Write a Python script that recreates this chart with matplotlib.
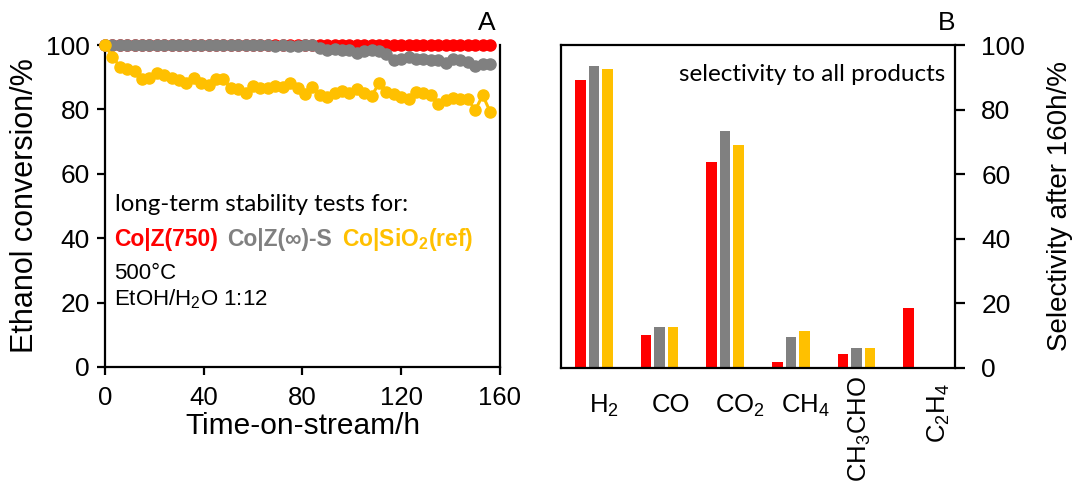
import matplotlib
matplotlib.use("Agg")
import matplotlib.pyplot as plt
import numpy as np
from matplotlib.transforms import ScaledTranslation

plt.rcParams['font.family'] = ['Liberation Sans', 'DejaVu Sans']
plt.rcParams['mathtext.fontset'] = 'custom'
plt.rcParams['mathtext.rm'] = 'Liberation Sans'
plt.rcParams['mathtext.bf'] = 'Liberation Sans:bold'
plt.rcParams['mathtext.it'] = 'Liberation Sans:italic'

RED = '#FF0000'
GRAY = '#808080'
GOLD = '#FFC000'

# ---- long-term stability: ethanol conversion (%) vs time-on-stream (h) ----
time_h = np.arange(0, 157, 3)

conv_co_z750 = [100.0] * 53

conv_co_zinf_s = [100.0, 100.0, 100.0, 100.0, 100.0, 100.0, 100.0, 100.0, 100.0, 100.0,
                  100.0, 100.0, 100.0, 100.0, 100.0, 100.0, 100.0, 100.0, 100.0, 100.0,
                  100.0, 100.0, 100.0, 99.8, 100.0, 99.7, 99.8, 99.9, 100.0, 99.2,
                  98.5, 98.8, 98.6, 98.3, 97.5, 98.2, 98.6, 98.2, 97.3, 95.3,
                  95.5, 96.2, 95.8, 95.6, 95.4, 95.2, 94.3, 95.5, 95.2, 94.7,
                  93.4, 94.2, 94.1]

conv_co_sio2 = [100.0, 96.4, 93.3, 92.4, 92.0, 89.3, 89.6, 91.4, 90.7, 89.9,
                89.1, 88.1, 89.6, 88.3, 87.6, 89.4, 89.4, 86.5, 86.2, 85.2,
                87.3, 86.5, 86.5, 87.3, 86.9, 88.1, 86.5, 84.7, 86.9, 84.4,
                83.9, 85.0, 85.8, 85.0, 86.2, 85.0, 84.2, 88.1, 85.5, 84.7,
                83.9, 83.1, 85.5, 85.0, 84.4, 81.7, 82.9, 83.4, 83.1, 83.1,
                79.8, 84.4, 79.3]

# ---- selectivity after 160 h (%) ----
products = [r'H$_\mathrm{2}$', 'CO', r'CO$_\mathrm{2}$', r'CH$_\mathrm{4}$',
            r'CH$_\mathrm{3}$CHO', r'C$_\mathrm{2}$H$_\mathrm{4}$']
sel_co_z750 = [89.2, 10.1, 63.9, 1.8, 4.4, 18.6]
sel_co_zinf_s = [93.6, 12.6, 73.4, 9.5, 6.3, 0.0]
sel_co_sio2 = [92.5, 12.8, 69.0, 11.6, 6.3, 0.3]

fig = plt.figure(figsize=(10.72, 4.94), dpi=100)

# ================= panel A =================
axA = fig.add_axes([0.0979, 0.2571, 0.3685, 0.6518])
for y, c in [(conv_co_z750, RED), (conv_co_zinf_s, GRAY), (conv_co_sio2, GOLD)]:
    axA.plot(time_h, y, '-o', color=c, lw=2.2, ms=8, mec=c, mfc=c, clip_on=False, zorder=3)

axA.set_xlim(0, 160)
axA.set_ylim(0, 100)
axA.set_xticks([0, 40, 80, 120, 160])
axA.set_yticks([0, 20, 40, 60, 80, 100])
axA.spines['top'].set_visible(False)
for s in ['left', 'right', 'bottom']:
    axA.spines[s].set_linewidth(1.6)
axA.tick_params(axis='both', direction='out', length=6, width=1.6, color='black')
axA.tick_params(axis='y', labelsize=19, pad=5)
axA.tick_params(axis='x', labelsize=18.5, pad=8)
axA.set_xlabel('Time-on-stream/h', fontsize=21.5, labelpad=1)
axA.set_ylabel('Ethanol conversion/%', fontsize=22, labelpad=4)
axA.text(0.99, 1.03, 'A', transform=axA.transAxes, ha='right', va='bottom', fontsize=19)

axA.text(0.025, 0.505, 'long-term stability tests for:', transform=axA.transAxes,
         family='Lato', fontsize=17.3, ha='left', va='center')

# sample names written in their series colours, one after another on a shared baseline
names = [('Co|Z(750)', RED), ('Co|Z(∞)-S', GRAY), (r'Co|SiO$_\mathbf{2}$(ref)', GOLD)]
fig.canvas.draw()
renderer = fig.canvas.get_renderer()
x_ax = 0.022
for txt, col in names:
    t = axA.text(x_ax, 0.375, txt, transform=axA.transAxes, color=col,
                 fontsize=16.5, fontweight='bold', ha='left', va='baseline')
    bb = t.get_window_extent(renderer).transformed(axA.transAxes.inverted())
    x_ax = bb.x1 + 10 / axA.bbox.width

axA.text(0.023, 0.29, '500°C', transform=axA.transAxes, fontsize=16, ha='left', va='center')
axA.text(0.023, 0.21, r'EtOH/H$_\mathrm{2}$O 1:12', transform=axA.transAxes,
         fontsize=16, ha='left', va='center')

# ================= panel B =================
axB = fig.add_axes([0.5233, 0.2551, 0.3675, 0.6538])
x = np.arange(len(products))
w = 0.16
step = 0.205
axB.bar(x - step, sel_co_z750, w, color=RED, zorder=2)
axB.bar(x, sel_co_zinf_s, w, color=GRAY, zorder=2)
axB.bar(x + step, sel_co_sio2, w, color=GOLD, zorder=2)
axB.set_xlim(-0.5, len(products) - 0.5)
axB.set_ylim(0, 100)
axB.yaxis.tick_right()
axB.yaxis.set_label_position('right')
axB.set_yticks([0, 20, 40, 60, 80, 100])
for s in axB.spines.values():
    s.set_linewidth(1.6)
axB.tick_params(axis='y', direction='out', length=7, width=1.6, labelsize=19, pad=12)
axB.set_ylabel('Selectivity after 160h/%', fontsize=20, labelpad=16)
axB.set_xticks(x)
axB.set_xticklabels(products, fontsize=18.5)
axB.tick_params(axis='x', length=0, pad=18)
# (dx, dy) shifts in pixels and rotation of each product label
label_shift = [(10, 0, 0), (12, 0, 0), (15, 0, 0), (15, 0, 0), (3, 17, 90), (17, 10, 90)]
for lab, (dx, dy, rot) in zip(axB.get_xticklabels(), label_shift):
    lab.set_rotation(rot)
    lab.set_transform(lab.get_transform() +
                      ScaledTranslation(dx / 100, dy / 100, fig.dpi_scale_trans))
axB.text(1.0, 1.03, 'B', transform=axB.transAxes, ha='right', va='bottom', fontsize=19)
axB.text(0.975, 0.91, 'selectivity to all products', transform=axB.transAxes,
         family='Lato', fontsize=17.5, ha='right', va='center')

fig.savefig('out.png', dpi=100)
